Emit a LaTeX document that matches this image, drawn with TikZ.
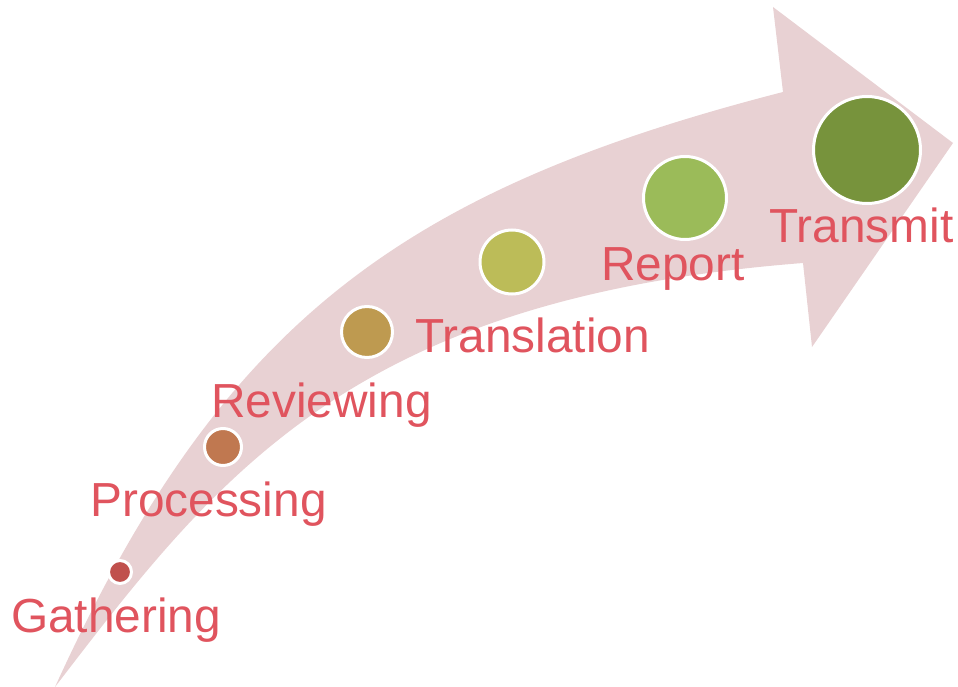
\documentclass[tikz,border=0pt]{standalone}
\usepackage{fontspec}
\setmainfont{Liberation Sans}
\definecolor{arrowfill}{RGB}{232,209,211}
\definecolor{labelred}{RGB}{224,84,94}
\definecolor{cA}{RGB}{192,80,77}
\definecolor{cB}{RGB}{192,120,80}
\definecolor{cC}{RGB}{190,154,80}
\definecolor{cD}{RGB}{188,188,88}
\definecolor{cE}{RGB}{155,187,89}
\definecolor{cF}{RGB}{119,147,60}
\tikzset{
  dot/.style={circle, draw=white, line width=3pt, inner sep=0pt},
  lbl/.style={anchor=base west, inner sep=0pt, text=labelred, font=\fontsize{47.8}{50}\selectfont}
}
\begin{document}
\begin{tikzpicture}[x=1pt,y=-1pt]
\useasboundingbox (0,0) rectangle (958,687);
% curved arrow
\fill[arrowfill] (55,687) .. controls (220,325) and (398,191) .. (783,92)
  -- (773,7) -- (953,143) -- (812,347) -- (803,263)
  .. controls (353,298) and (219,473) .. (55,687) -- cycle;
% circles
\node[dot, fill=cA, minimum size=23pt] (d1) at (120,572) {};
\node[dot, fill=cB, minimum size=37pt] (d2) at (223,447) {};
\node[dot, fill=cC, minimum size=51pt] (d3) at (367,332) {};
\node[dot, fill=cD, minimum size=64pt] (d4) at (512,262) {};
\node[dot, fill=cE, minimum size=83pt] (d5) at (685,198) {};
\node[dot, fill=cF, minimum size=107pt] (d6) at (867,150) {};
% labels
\node[lbl] (t1) at (11,632) {Gathering};
\node[lbl] (t2) at (90,516) {Processing};
\node[lbl] (t3) at (211,417) {Reviewing};
\node[lbl] (t4) at (415,352) {Translation};
\node[lbl] (t5) at (601,280) {Report};
\node[lbl] (t6) at (769,242) {Transmit};
\end{tikzpicture}
\end{document}
